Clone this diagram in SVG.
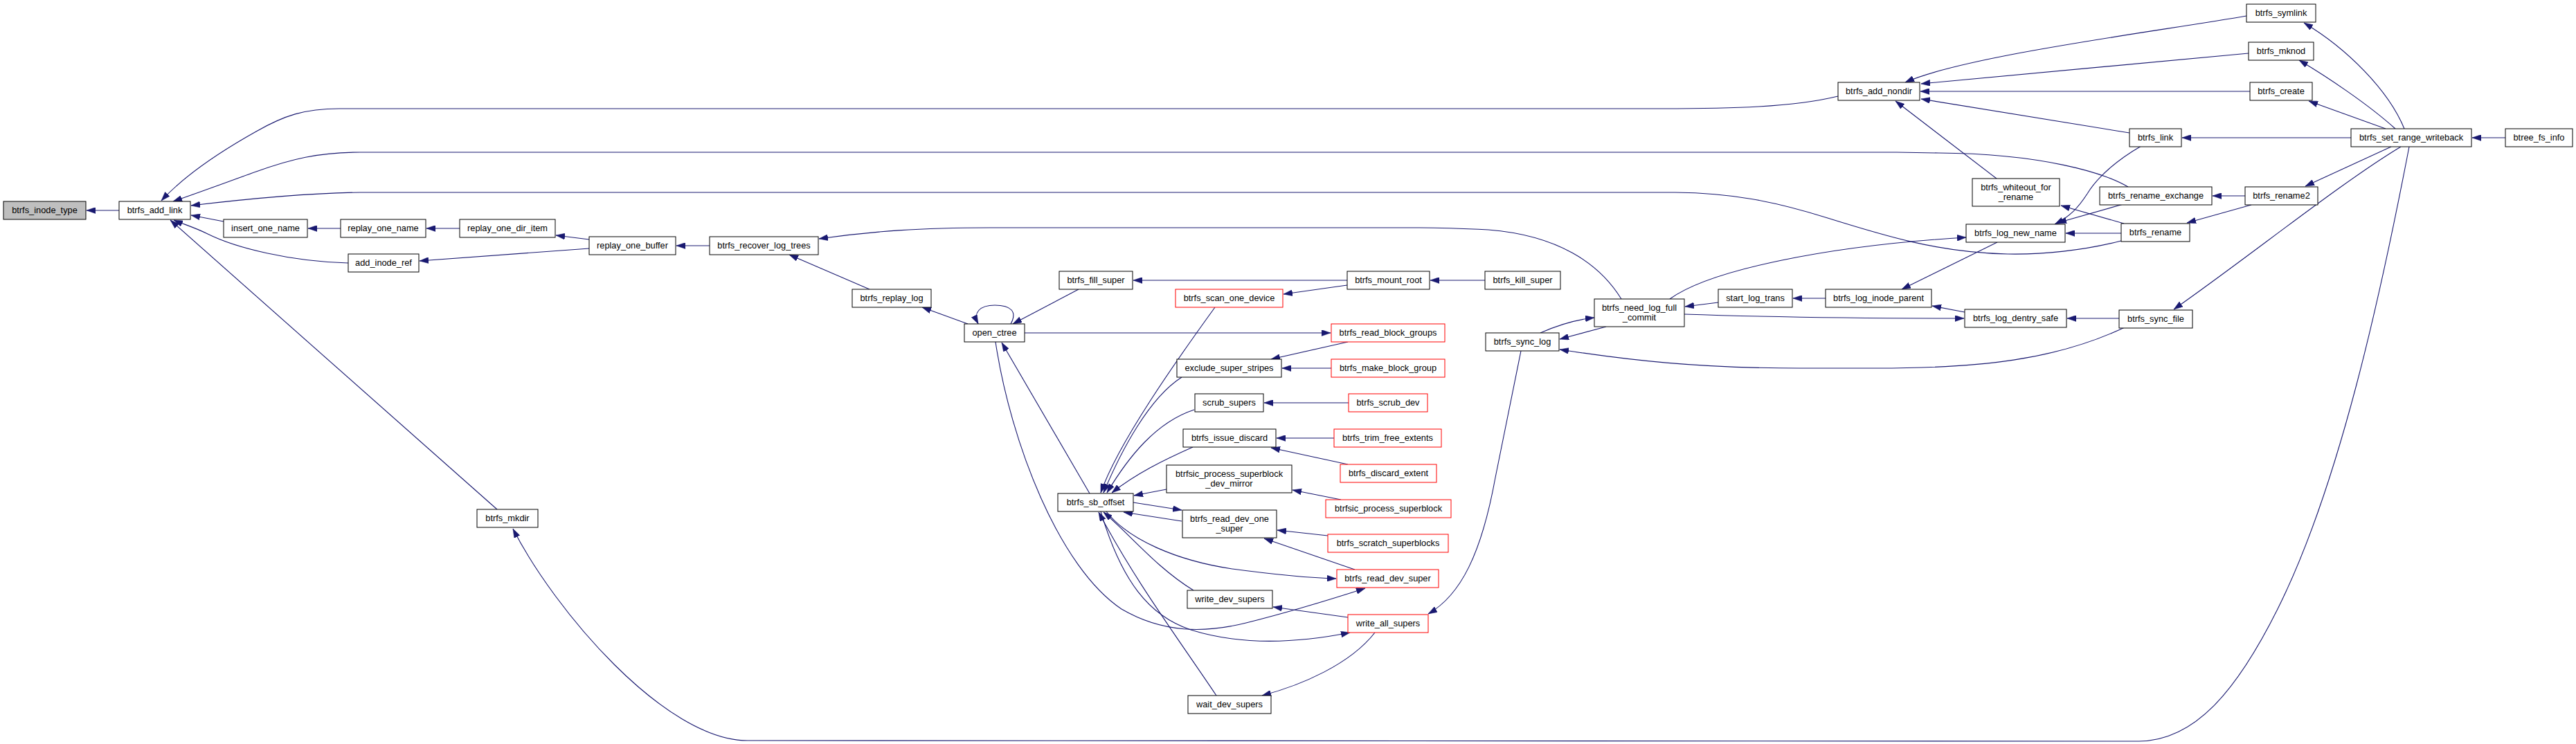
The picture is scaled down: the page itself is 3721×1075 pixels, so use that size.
<svg xmlns="http://www.w3.org/2000/svg" width="3721" height="1075" viewBox="0 0 3721 1075">
<style>
.n rect{fill:#fff;stroke:#000;stroke-width:1}
.n.red rect{stroke:#ff0000}
.n.root rect{fill:#bfbfbf}
.n text{font-family:"Liberation Sans",Arial,Helvetica,sans-serif;font-size:12.8px;fill:#000;text-anchor:middle}
#edges path{fill:none;stroke:#191970;stroke-width:1.1;marker-end:url(#ah)}
</style>
<defs>
<marker id="ah" markerUnits="userSpaceOnUse" viewBox="0 0 13 9" refX="13" refY="4.5" markerWidth="13" markerHeight="9" orient="auto">
<path d="M0,0 L13,4.5 L0,9 Z" fill="#191970" stroke="#191970" stroke-width="0.5"/>
</marker>
</defs>
<rect width="3721" height="1075" fill="#fff"/>
<g id="edges">
<path d="M172,304 L125,304"/>
<path d="M2655,139 C2590,155 2500,157 2400,157 L490,157 C440,157 410,167 370,190 C320,218 268,252 233,290"/>
<path d="M3074,270 C3040,250 2950,222 2800,221 L2740,220 L520,220 C460,220 420,230 370,248 C320,266 285,279 250,291"/>
<path d="M3064,348 C3010,362 2950,368 2900,367 C2800,365 2720,340 2640,315 C2560,290 2500,279 2420,278 L520,278 C440,279 360,287 276,297"/>
<path d="M323,320 L276,311"/>
<path d="M492,330 L445,330"/>
<path d="M664,330 L616,330"/>
<path d="M851,346 L803,340"/>
<path d="M851,359 L606,377"/>
<path d="M503,380 C420,378 340,358 300,338 C280,328 265,324 251,318"/>
<path d="M718,736 L246,318"/>
<path d="M1025,355 L977,355"/>
<path d="M1256,418 L1140,368"/>
<path d="M2342,432 C2310,380 2250,340 2150,332 C2110,330 2080,329 2050,329 L1430,329 C1330,329 1260,334 1183,345"/>
<path d="M1398,468 L1332,444"/>
<path d="M1460,468 C1470,450 1460,441 1437,441 C1415,441 1405,452 1413,468"/>
<path d="M1558,418 L1463,468"/>
<path d="M1480,481 L1922,481"/>
<path d="M1946,405 L1637,405"/>
<path d="M1946,412 L1854,425"/>
<path d="M2145,405 L2066,405"/>
<path d="M1947,494 L1836,519"/>
<path d="M1923,532 L1852,532"/>
<path d="M1948,582 L1826,582"/>
<path d="M1927,633 L1844,633"/>
<path d="M1947,671 L1836,647"/>
<path d="M1937,722 L1867,708"/>
<path d="M1755,444 C1700,520 1615,640 1590,712"/>
<path d="M1707,545 C1660,575 1620,650 1594,712"/>
<path d="M1725,592 C1670,610 1630,660 1599,712"/>
<path d="M1723,646 C1680,665 1640,685 1606,712"/>
<path d="M1685,707 L1638,716"/>
<path d="M1637,726 L1707,737"/>
<path d="M1707,753 L1623,740"/>
<path d="M1918,774 L1845,766"/>
<path d="M1957,823 L1826,778"/>
<path d="M1574,713 L1447,495"/>
<path d="M1438,494 C1460,640 1530,820 1620,880 C1680,915 1740,915 1800,900 C1860,885 1910,870 1972,850"/>
<path d="M1598,739 C1630,780 1700,810 1780,822 C1840,830 1890,835 1930,836"/>
<path d="M1724,853 C1670,820 1630,770 1594,740"/>
<path d="M1590,739 C1620,840 1660,890 1720,910 C1790,932 1870,930 1950,914"/>
<path d="M1947,892 L1839,877"/>
<path d="M1986,914 C1950,960 1880,990 1823,1005"/>
<path d="M1757,1005 C1700,920 1640,840 1587,740"/>
<path d="M2197,507 L2160,690 C2140,800 2110,860 2063,887"/>
<path d="M3480,212 C3440,420 3380,700 3290,880 C3230,1000 3170,1070 3090,1071 L1080,1070 C960,1070 800,880 741,764"/>
<path d="M3468,212 C3380,265 3250,370 3140,447"/>
<path d="M3454,212 L3330,269"/>
<path d="M3243,283 L3196,283"/>
<path d="M3252,296 L3159,322"/>
<path d="M3473,186 C3450,130 3390,70 3328,33"/>
<path d="M3460,186 C3420,150 3360,110 3321,87"/>
<path d="M3446,186 L3335,146"/>
<path d="M3619,199 L3571,199"/>
<path d="M3396,199 L3152,199"/>
<path d="M3245,23 C3120,45 2840,80 2752,119"/>
<path d="M3248,77 L2775,121"/>
<path d="M3250,132 L2774,132"/>
<path d="M3076,192 L2775,143"/>
<path d="M2884,258 L2738,146"/>
<path d="M3093,211 C3060,230 3030,255 3015,280 C3002,300 2990,313 2968,324"/>
<path d="M3067,295 L2972,322"/>
<path d="M3068,323 L2977,297"/>
<path d="M3064,337 L2984,337"/>
<path d="M2412,432 C2470,390 2640,355 2840,343"/>
<path d="M2482,437 L2434,443"/>
<path d="M2637,431 L2590,431"/>
<path d="M2885,350 L2747,418"/>
<path d="M2838,451 L2791,442"/>
<path d="M2433,454 C2550,458 2700,460 2837,460"/>
<path d="M3061,460 L2986,460"/>
<path d="M2225,481 C2250,470 2275,462 2303,459"/>
<path d="M2320,472 L2253,490"/>
<path d="M3069,473 C2970,520 2860,532 2710,532 L2600,532 C2450,532 2350,520 2253,505"/>
</g>
<g id="n_inode_type" class="n root"><rect x="5" y="291" width="119" height="26"/><text x="64.5" y="308">btrfs_inode_type</text></g>
<g id="n_add_link" class="n"><rect x="172" y="291" width="103" height="26"/><text x="223.5" y="308">btrfs_add_link</text></g>
<g id="n_insert_one_name" class="n"><rect x="323" y="317" width="121" height="26"/><text x="383.5" y="334">insert_one_name</text></g>
<g id="n_replay_one_name" class="n"><rect x="492" y="317" width="123" height="26"/><text x="553.5" y="334">replay_one_name</text></g>
<g id="n_replay_one_dir_item" class="n"><rect x="664" y="317" width="138" height="26"/><text x="733" y="334">replay_one_dir_item</text></g>
<g id="n_replay_one_buffer" class="n"><rect x="851" y="342" width="125" height="26"/><text x="913.5" y="359">replay_one_buffer</text></g>
<g id="n_add_inode_ref" class="n"><rect x="503" y="367" width="102" height="26"/><text x="554" y="384">add_inode_ref</text></g>
<g id="n_recover_log_trees" class="n"><rect x="1025" y="342" width="157" height="26"/><text x="1103.5" y="359">btrfs_recover_log_trees</text></g>
<g id="n_replay_log" class="n"><rect x="1231" y="418" width="114" height="26"/><text x="1288" y="435">btrfs_replay_log</text></g>
<g id="n_open_ctree" class="n"><rect x="1393" y="468" width="87" height="26"/><text x="1436.5" y="485">open_ctree</text></g>
<g id="n_fill_super" class="n"><rect x="1530" y="392" width="106" height="26"/><text x="1583" y="409">btrfs_fill_super</text></g>
<g id="n_mount_root" class="n"><rect x="1946" y="392" width="119" height="26"/><text x="2005.5" y="409">btrfs_mount_root</text></g>
<g id="n_kill_super" class="n"><rect x="2145" y="392" width="109" height="26"/><text x="2199.5" y="409">btrfs_kill_super</text></g>
<g id="n_scan_one_device" class="n red"><rect x="1698" y="418" width="155" height="26"/><text x="1775.5" y="435">btrfs_scan_one_device</text></g>
<g id="n_read_block_groups" class="n red"><rect x="1923" y="468" width="164" height="26"/><text x="2005" y="485">btrfs_read_block_groups</text></g>
<g id="n_exclude_super_stripes" class="n"><rect x="1700" y="519" width="151" height="26"/><text x="1775.5" y="536">exclude_super_stripes</text></g>
<g id="n_make_block_group" class="n red"><rect x="1923" y="519" width="164" height="26"/><text x="2005" y="536">btrfs_make_block_group</text></g>
<g id="n_scrub_supers" class="n"><rect x="1726" y="569" width="99" height="26"/><text x="1775.5" y="586">scrub_supers</text></g>
<g id="n_scrub_dev" class="n red"><rect x="1948" y="569" width="114" height="26"/><text x="2005" y="586">btrfs_scrub_dev</text></g>
<g id="n_issue_discard" class="n"><rect x="1709" y="620" width="134" height="26"/><text x="1776" y="637">btrfs_issue_discard</text></g>
<g id="n_trim_free_extents" class="n red"><rect x="1927" y="620" width="155" height="26"/><text x="2004.5" y="637">btrfs_trim_free_extents</text></g>
<g id="n_discard_extent" class="n red"><rect x="1936" y="671" width="139" height="26"/><text x="2005.5" y="688">btrfs_discard_extent</text></g>
<g id="n_dev_mirror" class="n"><rect x="1685" y="672" width="181" height="40"/><text x="1775.5" y="689">btrfsic_process_superblock</text><text x="1775.5" y="703">_dev_mirror</text></g>
<g id="n_process_superblock" class="n red"><rect x="1915" y="722" width="181" height="26"/><text x="2005.5" y="739">btrfsic_process_superblock</text></g>
<g id="n_sb_offset" class="n"><rect x="1528" y="713" width="109" height="26"/><text x="1582.5" y="730">btrfs_sb_offset</text></g>
<g id="n_read_dev_one_super" class="n"><rect x="1708" y="737" width="136" height="40"/><text x="1776" y="754">btrfs_read_dev_one</text><text x="1776" y="768">_super</text></g>
<g id="n_scratch_superblocks" class="n red"><rect x="1918" y="772" width="174" height="26"/><text x="2005" y="789">btrfs_scratch_superblocks</text></g>
<g id="n_read_dev_super" class="n red"><rect x="1931" y="823" width="147" height="26"/><text x="2004.5" y="840">btrfs_read_dev_super</text></g>
<g id="n_write_dev_supers" class="n"><rect x="1715" y="853" width="123" height="26"/><text x="1776.5" y="870">write_dev_supers</text></g>
<g id="n_write_all_supers" class="n red"><rect x="1947" y="888" width="116" height="26"/><text x="2005" y="905">write_all_supers</text></g>
<g id="n_wait_dev_supers" class="n"><rect x="1716" y="1005" width="120" height="26"/><text x="1776" y="1022">wait_dev_supers</text></g>
<g id="n_mkdir" class="n"><rect x="689" y="736" width="88" height="26"/><text x="733" y="753">btrfs_mkdir</text></g>
<g id="n_sync_log" class="n"><rect x="2146" y="481" width="106" height="26"/><text x="2199" y="498">btrfs_sync_log</text></g>
<g id="n_need_log_full_commit" class="n"><rect x="2303" y="432" width="130" height="40"/><text x="2368" y="449">btrfs_need_log_full</text><text x="2368" y="463">_commit</text></g>
<g id="n_start_log_trans" class="n"><rect x="2482" y="418" width="107" height="26"/><text x="2535.5" y="435">start_log_trans</text></g>
<g id="n_log_inode_parent" class="n"><rect x="2637" y="418" width="153" height="26"/><text x="2713.5" y="435">btrfs_log_inode_parent</text></g>
<g id="n_log_new_name" class="n"><rect x="2840" y="324" width="143" height="26"/><text x="2911.5" y="341">btrfs_log_new_name</text></g>
<g id="n_rename" class="n"><rect x="3064" y="323" width="99" height="26"/><text x="3113.5" y="340">btrfs_rename</text></g>
<g id="n_log_dentry_safe" class="n"><rect x="2838" y="447" width="147" height="26"/><text x="2911.5" y="464">btrfs_log_dentry_safe</text></g>
<g id="n_sync_file" class="n"><rect x="3061" y="448" width="106" height="26"/><text x="3114" y="465">btrfs_sync_file</text></g>
<g id="n_add_nondir" class="n"><rect x="2655" y="119" width="118" height="26"/><text x="2714" y="136">btrfs_add_nondir</text></g>
<g id="n_symlink" class="n"><rect x="3245" y="6" width="100" height="26"/><text x="3295" y="23">btrfs_symlink</text></g>
<g id="n_mknod" class="n"><rect x="3248" y="61" width="94" height="26"/><text x="3295" y="78">btrfs_mknod</text></g>
<g id="n_create" class="n"><rect x="3250" y="119" width="90" height="26"/><text x="3295" y="136">btrfs_create</text></g>
<g id="n_link" class="n"><rect x="3076" y="186" width="75" height="26"/><text x="3113.5" y="203">btrfs_link</text></g>
<g id="n_whiteout_for_rename" class="n"><rect x="2849" y="258" width="126" height="40"/><text x="2912" y="275">btrfs_whiteout_for</text><text x="2912" y="289">_rename</text></g>
<g id="n_rename_exchange" class="n"><rect x="3033" y="270" width="162" height="26"/><text x="3114" y="287">btrfs_rename_exchange</text></g>
<g id="n_rename2" class="n"><rect x="3243" y="270" width="105" height="26"/><text x="3295.5" y="287">btrfs_rename2</text></g>
<g id="n_set_range_writeback" class="n"><rect x="3396" y="186" width="174" height="26"/><text x="3483" y="203">btrfs_set_range_writeback</text></g>
<g id="n_btree_fs_info" class="n"><rect x="3619" y="186" width="97" height="26"/><text x="3667.5" y="203">btree_fs_info</text></g>
</svg>
